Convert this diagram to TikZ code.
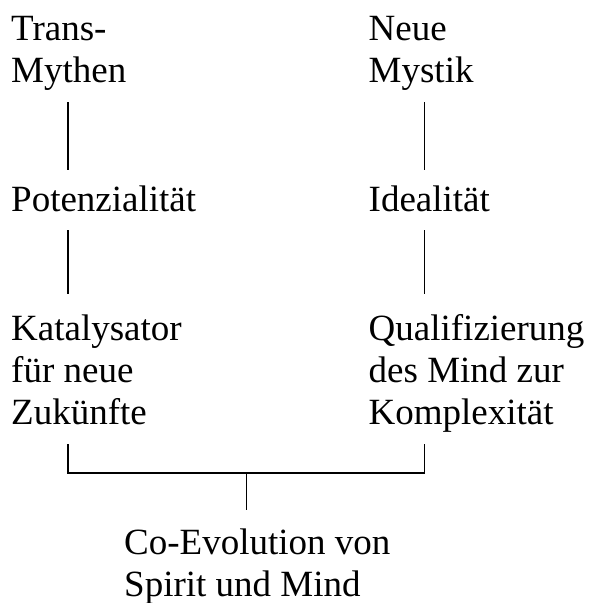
\documentclass[tikz,border=0pt]{standalone}
\usepackage{fontspec}
\setmainfont{Liberation Serif}
\begin{document}
\begin{tikzpicture}[x=1pt,y=1pt,
  lbl/.style={anchor=base west,inner sep=0pt,align=left,font=\fontsize{37}{42}\selectfont},
  conn/.style={line width=1.8pt}]
\useasboundingbox (0,0) rectangle (590,-603);
% left column (anchor = baseline of last line)
\node[lbl] (trans) at (11,-82) {Trans-\\Mythen};
\node[lbl] (pot) at (11,-211) {Potenzialität};
\node[lbl] (kat) at (11,-424) {Katalysator\\für neue\\Zukünfte};
% right column
\node[lbl] (neue) at (368.5,-82) {Neue\\Mystik};
\node[lbl] (ideal) at (368.5,-211) {Idealität};
\node[lbl] (qual) at (368.5,-424) {Qualifizierung\\des Mind zur\\Komplexität};
% bottom
\node[lbl] (coevo) at (124,-596) {Co-Evolution von\\Spirit und Mind};
% connector ends
\coordinate (l1a) at (68,-102); \coordinate (l1b) at (68,-170);
\coordinate (l2a) at (68,-230); \coordinate (l2b) at (68,-294);
\coordinate (r1a) at (424.5,-102); \coordinate (r1b) at (424.5,-170);
\coordinate (r2a) at (424.5,-230); \coordinate (r2b) at (424.5,-294);
\coordinate (bl) at (68,-444); \coordinate (br) at (424.5,-444);
\coordinate (bm) at (246.5,-473); \coordinate (bc) at (246.5,-510);
\draw[conn] (l1a) -- (l1b);
\draw[conn] (l2a) -- (l2b);
\draw[conn] (r1a) -- (r1b);
\draw[conn] (r2a) -- (r2b);
\draw[conn] (bl) |- (bm) -| (br);
\draw[conn] (bm) -- (bc);
\end{tikzpicture}
\end{document}
